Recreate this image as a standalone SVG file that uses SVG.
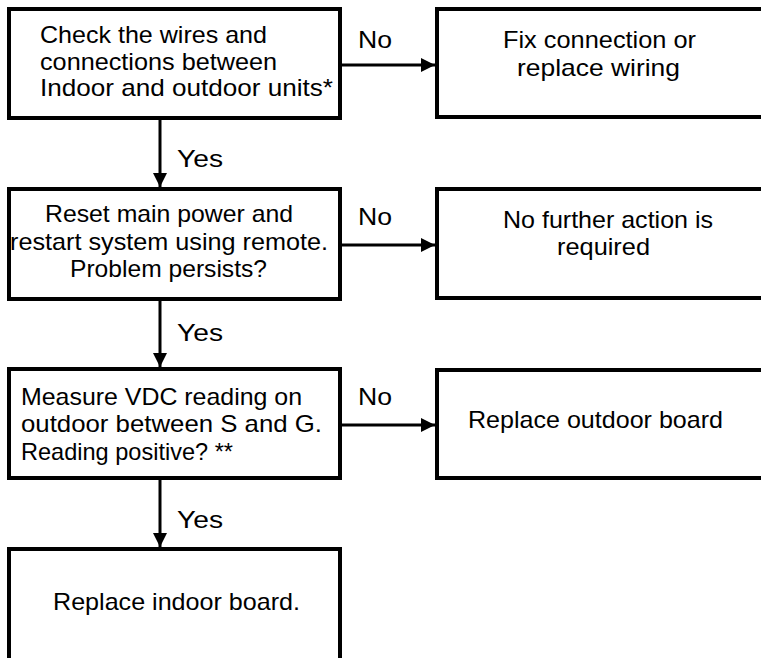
<svg xmlns="http://www.w3.org/2000/svg" width="761" height="658" viewBox="0 0 761 658">
<defs>
<style>
.box{fill:#fff;stroke:#000;stroke-width:4}
.t{font-family:"Liberation Sans",Arial,sans-serif;font-size:24px;fill:#000}
.c{stroke:#000;stroke-width:3;fill:none}
</style>
<marker id="ah" viewBox="0 0 14 14" refX="14" refY="7" markerWidth="14" markerHeight="14" markerUnits="userSpaceOnUse" orient="auto">
<path d="M0,0 L14,7 L0,14 Z" fill="#000"/>
</marker>
</defs>
<rect width="761" height="658" fill="#fff"/>
<g id="connectors">
<line class="c" x1="340" y1="65" x2="435" y2="65" marker-end="url(#ah)"/>
<line class="c" x1="340" y1="245" x2="435" y2="245" marker-end="url(#ah)"/>
<line class="c" x1="340" y1="425" x2="435" y2="425" marker-end="url(#ah)"/>
<line class="c" x1="160" y1="118" x2="160" y2="187" marker-end="url(#ah)"/>
<line class="c" x1="160" y1="299" x2="160" y2="367" marker-end="url(#ah)"/>
<line class="c" x1="160" y1="478" x2="160" y2="547" marker-end="url(#ah)"/>
<text class="t" x="358" y="48" textLength="34" lengthAdjust="spacingAndGlyphs">No</text>
<text class="t" x="358" y="225" textLength="34" lengthAdjust="spacingAndGlyphs">No</text>
<text class="t" x="358" y="405" textLength="34" lengthAdjust="spacingAndGlyphs">No</text>
<text class="t" x="177" y="167" textLength="46" lengthAdjust="spacingAndGlyphs">Yes</text>
<text class="t" x="177" y="341" textLength="46" lengthAdjust="spacingAndGlyphs">Yes</text>
<text class="t" x="177" y="528" textLength="46" lengthAdjust="spacingAndGlyphs">Yes</text>
</g>
<g id="check">
<rect class="box" x="9" y="9" width="331" height="109"/>
<text class="t" x="40" y="43" textLength="227" lengthAdjust="spacingAndGlyphs">Check the wires and</text>
<text class="t" x="40" y="70" textLength="237" lengthAdjust="spacingAndGlyphs">connections between</text>
<text class="t" x="40" y="96" textLength="293" lengthAdjust="spacingAndGlyphs">Indoor and outdoor units*</text>
</g>
<g id="fix">
<rect class="box" x="437" y="9" width="330" height="108"/>
<text class="t" x="503" y="48" textLength="193" lengthAdjust="spacingAndGlyphs">Fix connection or</text>
<text class="t" x="517" y="76" textLength="163" lengthAdjust="spacingAndGlyphs">replace wiring</text>
</g>
<g id="reset">
<rect class="box" x="9" y="189" width="331" height="110"/>
<text class="t" x="45" y="222" textLength="248" lengthAdjust="spacingAndGlyphs">Reset main power and</text>
<text class="t" x="10" y="250" textLength="318" lengthAdjust="spacingAndGlyphs">restart system using remote.</text>
<text class="t" x="70" y="277" textLength="197" lengthAdjust="spacingAndGlyphs">Problem persists?</text>
</g>
<g id="noaction">
<rect class="box" x="437" y="189" width="330" height="109"/>
<text class="t" x="503" y="228" textLength="210" lengthAdjust="spacingAndGlyphs">No further action is</text>
<text class="t" x="557" y="255" textLength="93" lengthAdjust="spacingAndGlyphs">required</text>
</g>
<g id="measure">
<rect class="box" x="9" y="369" width="331" height="109"/>
<text class="t" x="21" y="405" textLength="281" lengthAdjust="spacingAndGlyphs">Measure VDC reading on</text>
<text class="t" x="21" y="432" textLength="301" lengthAdjust="spacingAndGlyphs">outdoor between S and G.</text>
<text class="t" x="21" y="460" textLength="212" lengthAdjust="spacingAndGlyphs">Reading positive? **</text>
</g>
<g id="outdoor">
<rect class="box" x="437" y="370" width="330" height="108"/>
<text class="t" x="468" y="428" textLength="255" lengthAdjust="spacingAndGlyphs">Replace outdoor board</text>
</g>
<g id="indoor">
<rect class="box" x="9" y="549" width="331" height="125"/>
<text class="t" x="53" y="610" textLength="247" lengthAdjust="spacingAndGlyphs">Replace indoor board.</text>
</g>
</svg>
